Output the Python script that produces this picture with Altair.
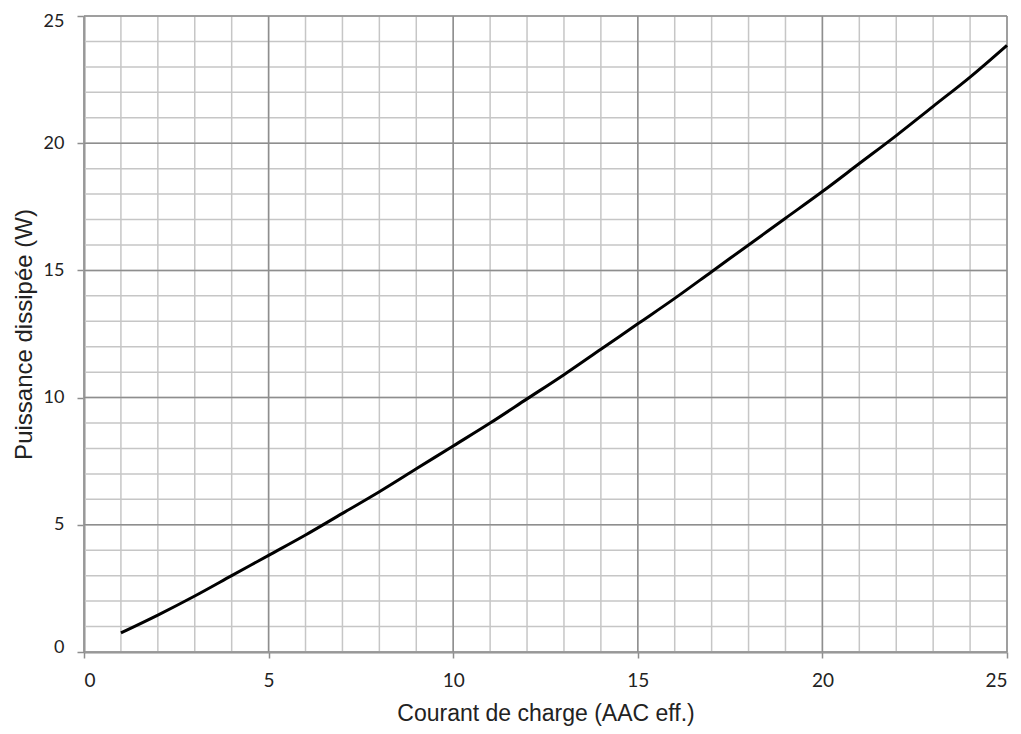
import altair as alt
import pandas as pd

# Curve data
courant = [1, 2, 3, 4, 5, 6, 7, 8, 9, 10, 11, 12, 13, 14, 15, 16, 17, 18, 19, 20, 21, 22, 23, 24, 25]
puissance = [0.75, 1.45, 2.2, 3.0, 3.8, 4.6, 5.45, 6.3, 7.2, 8.1, 9.0, 9.95, 10.9, 11.9, 12.9,
             13.9, 14.95, 16.0, 17.05, 18.1, 19.2, 20.3, 21.45, 22.6, 23.85]

minor_grid = list(range(0, 26))
major_grid = [0, 5, 10, 15, 20, 25]
tick_values = [0, 5, 10, 15, 20, 25]

curve = pd.DataFrame({"x": courant, "y": puissance})
minor_df = pd.DataFrame({"v": minor_grid})
major_df = pd.DataFrame({"v": major_grid})

xscale = alt.Scale(domain=[0, 25], nice=False, zero=False)
yscale = alt.Scale(domain=[0, 25], nice=False, zero=False)

LABEL_FONT = "Lato"
TITLE_FONT = "Liberation Sans"

minor_x = alt.Chart(minor_df).mark_rule(color="#c6c6c6", strokeWidth=1.5).encode(
    x=alt.X("v:Q", scale=xscale)
)
minor_y = alt.Chart(minor_df).mark_rule(color="#c6c6c6", strokeWidth=1.5).encode(
    y=alt.Y("v:Q", scale=yscale)
)
major_x = alt.Chart(major_df).mark_rule(color="#8e8e8e", strokeWidth=1.5).encode(
    x=alt.X("v:Q", scale=xscale)
)
major_y = alt.Chart(major_df).mark_rule(color="#8e8e8e", strokeWidth=1.5).encode(
    y=alt.Y("v:Q", scale=yscale)
)

line = alt.Chart(curve).mark_line(color="black", strokeWidth=3, interpolate="monotone").encode(
    x=alt.X(
        "x:Q",
        scale=xscale,
        axis=alt.Axis(
            title="Courant de charge (AAC eff.)",
            values=tick_values,
            grid=False,
            domainColor="#8e8e8e",
            domainWidth=2,
            tickColor="#8e8e8e",
            tickWidth=1.5,
            tickSize=6,
            labelPadding=13,
            labelFont=LABEL_FONT,
            labelFontSize=19,
            labelColor="#222222",
            titleFont=TITLE_FONT,
            titleFontSize=23,
            titleFontWeight="normal",
            titleColor="#222222",
            titlePadding=12,
        ),
    ),
    y=alt.Y(
        "y:Q",
        scale=yscale,
        axis=alt.Axis(
            title="Puissance dissipée (W)",
            values=tick_values,
            grid=False,
            domainColor="#8e8e8e",
            domainWidth=2,
            tickColor="#8e8e8e",
            tickWidth=1.5,
            tickSize=7,
            labelPadding=13,
            labelFont=LABEL_FONT,
            labelFontSize=18,
            labelColor="#222222",
            labelFlush=True,
            labelFlushOffset=4,
            titleFont=TITLE_FONT,
            titleFontSize=24,
            titleFontWeight="normal",
            titleColor="#222222",
            titlePadding=7,
        ),
    ),
)

chart = (
    alt.layer(minor_x, minor_y, major_x, major_y, line)
    .properties(
        width=923,
        height=636,
        autosize=alt.AutoSizeParams(type="none"),
        padding={"left": 76, "top": 8, "right": 6, "bottom": 80},
    )
    .configure_view(stroke=None)
)

chart.save("out.html", embed_options={"renderer": "svg", "actions": False})
